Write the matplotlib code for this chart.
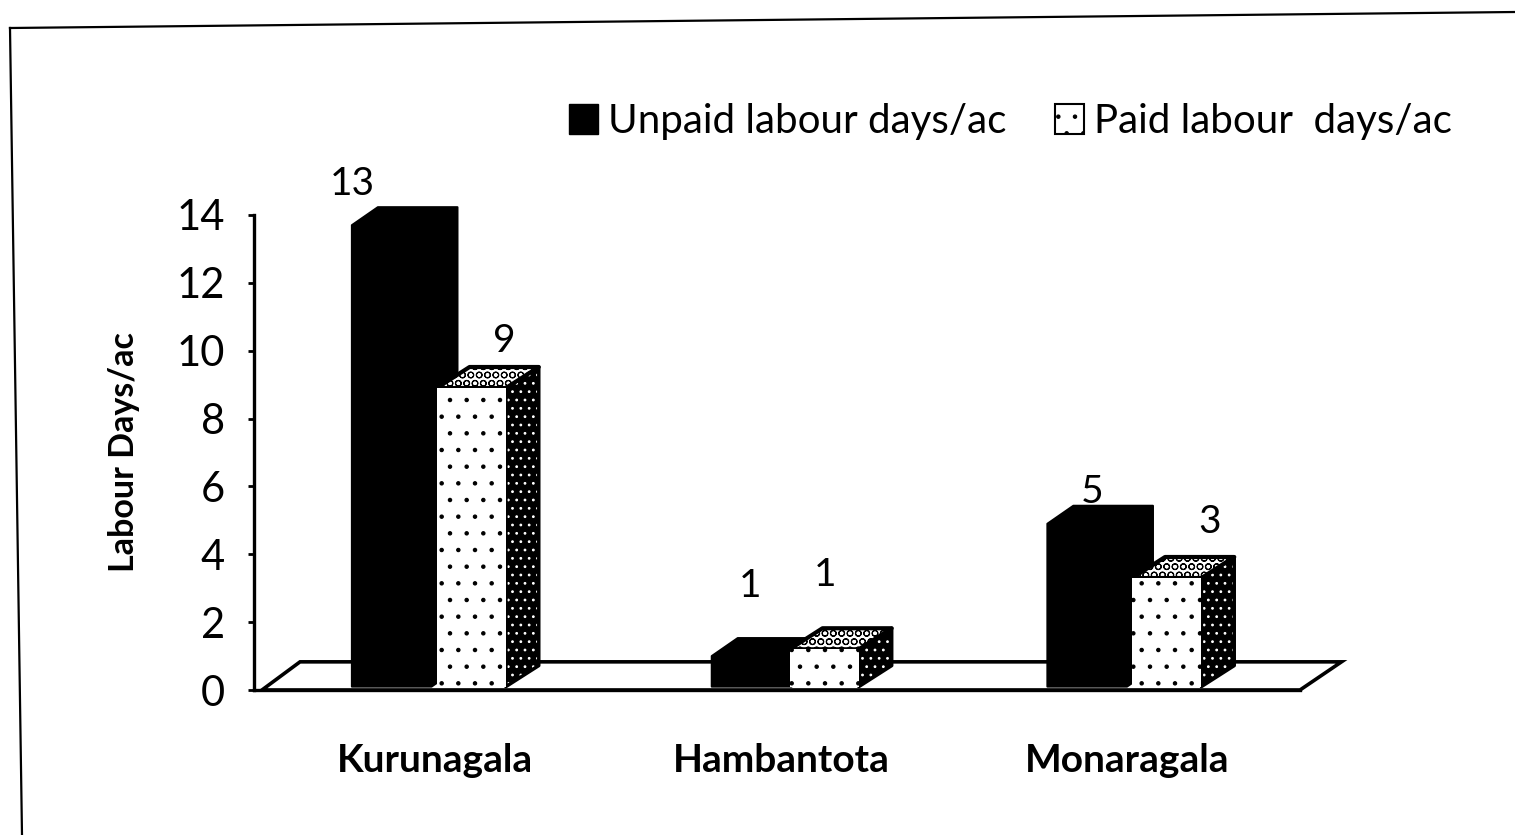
#Labour days per acre, by district
import numpy as np
import matplotlib
matplotlib.use('Agg')
import matplotlib.pyplot as plt
from matplotlib.lines import Line2D
from matplotlib.patches import Polygon, Rectangle

districts = ['Kurunagala', 'Hambantota', 'Monaragala']
unpaid = [13.7, 1.0, 4.9]
paid = [8.9, 1.2, 3.3]
unpaid_labels = ['13', '1', '5']
paid_labels = ['9', '1', '3']
y_ticks = [0, 2, 4, 6, 8, 10, 12, 14]

plt.rcParams['font.family'] = ['Lato', 'DejaVu Sans']
plt.rcParams['hatch.linewidth'] = 0.8

W, H = 1515, 835
fig = plt.figure(figsize=(W / 100, H / 100), dpi=100, facecolor='white')
ax = fig.add_axes([254 / W, (H - 690) / H, (1300 - 254) / W, (690 - 215) / H])
ax.set_xlim(-0.523, 2.5)
ax.set_ylim(0, 14)
ax.patch.set_alpha(0)

#page border from the scan
fig.add_artist(Line2D([10 / W, 1 / 1], [1 - 28 / H, 1 - 12 / H], color='black', lw=1.6))
fig.add_artist(Line2D([10 / W, 22 / W], [1 - 28 / H, 0], color='black', lw=1.6))

for s in ['top', 'right']:
    ax.spines[s].set_visible(False)
ax.spines['left'].set_linewidth(2.4)
ax.spines['bottom'].set_linewidth(2.4)

#floor of the 3d chart
ax.add_patch(Polygon([(-0.5, 0), (2.5, 0), (2.62, 0.83), (-0.39, 0.83)], closed=True,
                     facecolor='white', edgecolor='black', lw=2.6, clip_on=False, zorder=1))

#groups sit a bit unevenly in the scan
group_x = [0.0, 1.02, 2.01]
unpaid_left = [-0.24, -0.22, -0.24]
bar_w = 0.2
base = 0.1


def paid_bar(x0, h):
    dx, dy = 0.095, 0.62
    x1 = x0 + bar_w
    front = [(x0, base), (x1, base), (x1, h), (x0, h)]
    side = [(x1, base), (x1 + dx, base + dy), (x1 + dx, h + dy), (x1, h)]
    top = [(x0, h), (x1, h), (x1 + dx, h + dy), (x0 + dx, h + dy)]
    ax.add_patch(Polygon(side, facecolor='black', edgecolor='white', hatch='..', lw=0, zorder=4, clip_on=False))
    ax.add_patch(Polygon(side, fill=False, edgecolor='black', lw=2.5, joinstyle='round', zorder=4, clip_on=False))
    ax.add_patch(Polygon(top, facecolor='white', edgecolor='black', hatch='OO', lw=0, zorder=4, clip_on=False))
    ax.add_patch(Polygon(top, fill=False, edgecolor='black', lw=3, joinstyle='round', zorder=4, clip_on=False))
    ax.add_patch(Polygon(front, facecolor='white', edgecolor='black', hatch='.', lw=0, zorder=5, clip_on=False))


def unpaid_bar(x0, h):
    dx, dy = 0.075, 0.53
    w = 0.23
    outline = [(x0, base), (x0 + w, base), (x0 + w + dx, base + dy), (x0 + w + dx, h + dy),
               (x0 + dx, h + dy), (x0, h)]
    ax.add_patch(Polygon(outline, facecolor='black', edgecolor='black', lw=1.5, joinstyle='round',
                         zorder=3, clip_on=False))


for i in range(len(districts)):
    unpaid_bar(group_x[i] + unpaid_left[i], unpaid[i])
    paid_bar(group_x[i] + 0.005, paid[i])

#data labels
unpaid_lx = [-0.24, 0.91, 1.90]
unpaid_ly = [14.9, 3.06, 5.85]
paid_lx = [0.2, 1.127, 2.24]
paid_ly = [10.28, 3.4, 4.94]
for i in range(len(districts)):
    ax.text(unpaid_lx[i], unpaid_ly[i], unpaid_labels[i], fontsize=28, ha='center', va='center', clip_on=False)
    ax.text(paid_lx[i], paid_ly[i], paid_labels[i], fontsize=28, ha='center', va='center', clip_on=False)

ax.set_yticks(y_ticks)
ax.set_xticks([0, 1, 2])
ax.set_xticklabels(districts, fontsize=28, fontweight='bold')
ax.tick_params(axis='x', length=0, pad=38)
ax.tick_params(axis='y', labelsize=30, width=2, length=4, pad=17, direction='out')
ax.set_ylabel('Labour Days/ac', fontsize=24.5, fontweight='bold', labelpad=26)

#legend
handles = [Rectangle((0, 0), 1, 1, facecolor='black', edgecolor='black'),
           Rectangle((0, 0), 1, 1, facecolor='white', edgecolor='black', hatch='.', lw=1.5)]
ax.legend(handles, ['Unpaid labour days/ac', 'Paid labour  days/ac'], ncol=2, frameon=False,
          fontsize=29, loc='lower right', bbox_to_anchor=(1.145, 1.158),
          handlelength=0.72, handleheight=0.75, handletextpad=0.25, columnspacing=1.2,
          borderpad=0, borderaxespad=0)

fig.savefig('out.png', dpi=100, facecolor='white')
